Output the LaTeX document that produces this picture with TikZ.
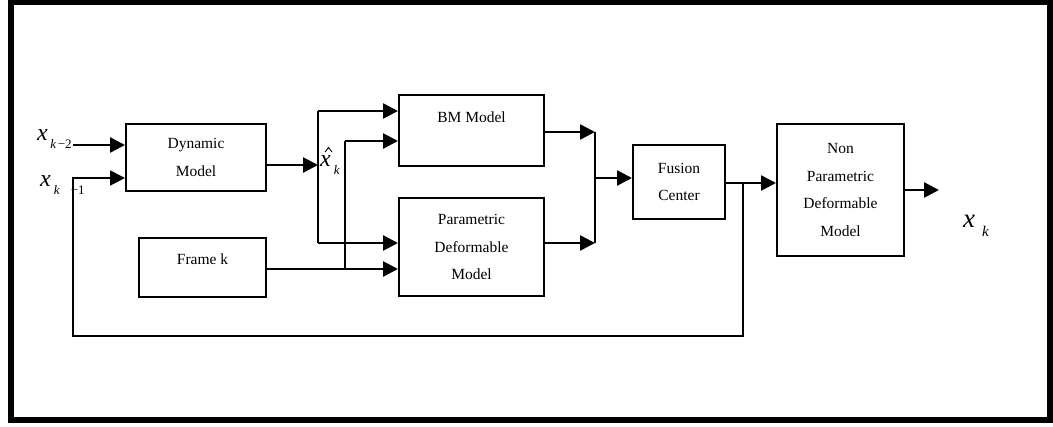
\documentclass[tikz,border=0pt]{standalone}
\usepackage{fontspec}
\setmainfont{Liberation Serif}
\usetikzlibrary{arrows.meta,calc}

% variable symbols built from the serif italic
\newcommand\varx[1][24]{{\fontsize{#1}{#1}\selectfont\itshape x}}
\newcommand\subsz{\fontsize{13}{13}\selectfont}

\begin{document}
\begin{tikzpicture}[x=1pt,y=-1pt,
  box/.style={draw,line width=2pt,inner sep=0pt,align=center,
    font=\fontsize{15.5}{27.5}\selectfont},
  arr/.style={line width=2.6pt,-{Triangle[length=15pt,width=15pt]}},
  plain/.style={line width=2.6pt},
  thin/.style={line width=1.8pt},
  thinarr/.style={line width=1.8pt,-{Triangle[length=15pt,width=15pt]}},
  lbl/.style={inner sep=0pt,anchor=base west}]

\useasboundingbox (0,0) rectangle (1053,427);

% outer frame
\draw[line width=6pt] (10.5,2.5) rectangle (1049.5,420.5);

% blocks
\node[box,anchor=north west,minimum width=140pt,minimum height=67pt] (dyn) at (125,123) {Dynamic\\Model};
\node[box,anchor=north west,minimum width=127pt,minimum height=59pt,
  label={[font=\fontsize{15.5}{18}\selectfont,yshift=8.5pt]center:Frame k}] (frame) at (138,237) {};
\node[box,anchor=north west,minimum width=145pt,minimum height=71pt] (bm) at (398,94) {BM Model\\\mbox{}};
\node[box,anchor=north west,minimum width=145pt,minimum height=98pt] (pdm) at (398,197) {Parametric\\Deformable\\Model};
\node[box,anchor=north west,minimum width=92pt,minimum height=74pt] (fus) at (632,144) {Fusion\\Center};
\node[box,anchor=north west,minimum width=127pt,minimum height=132pt] (npdm) at (776,123) {Non\\Parametric\\Deformable\\Model};

% junction points
\coordinate (inA) at (73,145);
\coordinate (inB) at (73,178);
\coordinate (est) at (318,165);
\coordinate (v1t) at (318,111);
\coordinate (v1b) at (318,243);
\coordinate (v2t) at (345,141);
\coordinate (v2b) at (345,269);
\coordinate (sumT) at (595,132);
\coordinate (sumB) at (595,243);
\coordinate (sumM) at (595,178);
\coordinate (tap) at (743,183);
\coordinate (fbR) at (743,336);
\coordinate (fbL) at (73,336);
\coordinate (outE) at (939,190);

% inputs to the dynamic model
\draw[arr] (inA) -- (dyn.west |- inA);
\draw[thinarr] (tap) -- (fbR) -- (fbL) -- (inB) -- (dyn.west |- inB);
\draw[thin] (inB) -- ++(2,0);

% predicted state fan-out
\draw[arr] (dyn.east |- est) -- (est);
\draw[plain] (v1t) -- (v1b);
\draw[arr] (v1t) -- (bm.west |- v1t);
\draw[arr] (v1b) -- (pdm.west |- v1b);
\draw[thin] (v2t) -- (v2b);
\draw[arr] (v2t) -- (bm.west |- v2t);
\draw[thin] (frame.east |- v2b) -- (v2b);
\draw[arr] (v2b) -- (pdm.west |- v2b);

% fusion of the two model outputs
\draw[arr] (bm.east |- sumT) -- (sumT);
\draw[arr] (pdm.east |- sumB) -- (sumB);
\draw[plain] (sumT) -- (sumB);
\draw[arr] (sumM) -- (fus.west |- sumM);
\draw[arr] (fus.east |- tap) -- (npdm.west |- tap);
\draw[arr] (npdm.east |- outE) -- (outE);

% variable labels
\node[lbl] (lA) at (37,140.5) {\varx\kern2.5pt\raisebox{-8pt}{\subsz\textit{k}\kern1.5pt−2}};
\node[lbl] (lB) at (40,187) {\varx\kern3pt\raisebox{-8pt}{\subsz\textit{k}\kern11pt−1}};
\node[lbl] (lH) at (320,167) {\varx\kern3pt\raisebox{-8pt}{\subsz\textit{k}}};
% circumflex over the estimate
\draw[line width=0.9pt,line join=miter] ([xshift=5pt,yshift=15pt]lH.base west) -- ++(3.5,-4.5) -- ++(3.5,4.5);
\node[lbl] (lO) at (963,228) {\varx[27]\kern7pt\raisebox{-9pt}{\fontsize{15}{15}\selectfont\itshape k}};

\end{tikzpicture}
\end{document}
